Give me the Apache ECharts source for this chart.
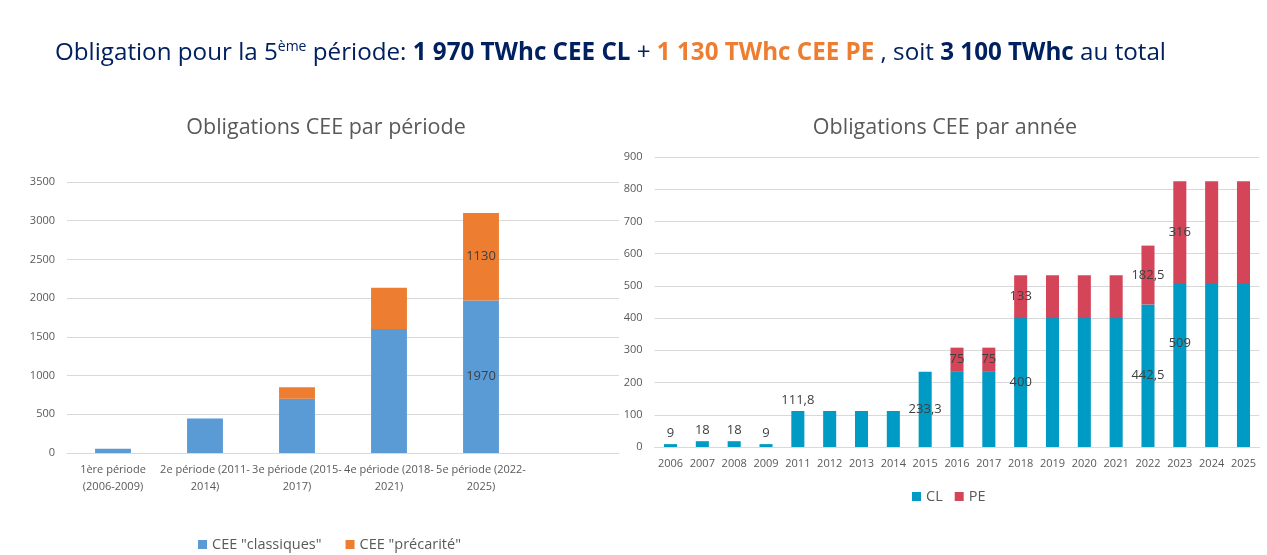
<!DOCTYPE html>
<html><head><meta charset="utf-8">
<script src="https://cdn.jsdelivr.net/npm/echarts@6/dist/echarts.min.js"></script>
<style>html,body{margin:0;padding:0;background:#fff}#c{width:1267px;height:555px}</style>
</head><body><div id="c"></div>
<script>
// Left chart: obligations per period
const periodCategories = ["1ère période\n(2006-2009)", "2e période (2011-\n2014)", "3e période (2015-\n2017)", "4e période (2018-\n2021)", "5e période (2022-\n2025)", ""];
const periodClassiques = [54, 447, 700, 1600, 1970, null];
const periodPrecarite = [null, null, 150, 533, 1130, null];
const periodLabelIdx = [4]; // labelled bars

// Right chart: obligations per year
const years = ["2006","2007","2008","2009","2011","2012","2013","2014","2015","2016","2017","2018","2019","2020","2021","2022","2023","2024","2025"];
const yearCL = [9, 18, 18, 9, 111.8, 111.8, 111.8, 111.8, 233.3, 233.3, 233.3, 400, 400, 400, 400, 442.5, 509, 509, 509];
const yearPE = [0, 0, 0, 0, 0, 0, 0, 0, 0, 75, 75, 133, 133, 133, 133, 182.5, 316, 316, 316];
const clTopLabels = [0, 1, 2, 3, 4];      // labels above bar
const clInsideLabels = [8, 11, 15, 16];  // labels inside bar
const peLabels = [9, 10, 11, 15, 16];

const FONT = "'Open Sans', sans-serif";
const fmt = v => String(v).replace('.', ',');

const chart = echarts.init(document.getElementById('c'));

const clData = yearCL.map((v, i) => {
  const item = { value: v };
  if (clTopLabels.includes(i)) item.label = { show: true, position: 'top', distance: 4 };
  else if (clInsideLabels.includes(i)) item.label = { show: true, position: 'inside', offset: i === 16 ? [0, -22] : [0, 0] };
  return item;
});
const peData = yearPE.map((v, i) => {
  const item = { value: v === 0 ? null : v };
  if (peLabels.includes(i)) item.label = { show: true, position: 'inside' };
  return item;
});
const pClData = periodClassiques.map((v, i) => ({ value: v, label: { show: periodLabelIdx.includes(i), position: 'inside' } }));
const pPeData = periodPrecarite.map((v, i) => ({ value: v, label: { show: periodLabelIdx.includes(i), position: 'inside' } }));

const lblStyle = { color: '#404040', fontSize: 13, fontFamily: FONT, formatter: p => fmt(p.value) };
const axisLbl = { color: '#595959', fontSize: 11, fontFamily: FONT };
const plain = v => String(v);

chart.setOption({
  animation: false,
  title: [
    {
      text: 'Obligation pour la 5{sup|ème} période: {b|1 970 TWhc CEE CL} + {o|1 130 TWhc CEE PE} , soit {b|3 100 TWhc} au total',
      left: 50, top: 35,
      textStyle: {
        fontFamily: FONT, fontSize: 24.2, color: '#002060', fontWeight: 'normal',
        rich: {
          sup: { fontSize: 14, color: '#002060', fontFamily: FONT, padding: [0, 0, 13, 0] },
          b: { fontSize: 24.2, fontWeight: 'bold', color: '#002060', fontFamily: FONT },
          o: { fontSize: 24.2, fontWeight: 'bold', color: '#ED7D31', fontFamily: FONT }
        }
      }
    },
    { text: 'Obligations CEE par période', left: 321, top: 112, textAlign: 'center',
      textStyle: { fontFamily: FONT, fontSize: 21.5, color: '#595959', fontWeight: 'normal' } },
    { text: 'Obligations CEE par année', left: 940, top: 112, textAlign: 'center',
      textStyle: { fontFamily: FONT, fontSize: 21.5, color: '#595959', fontWeight: 'normal' } }
  ],
  legend: [
    { data: ['CEE "classiques"', 'CEE "précarité"'], left: 193, top: 532, itemWidth: 9, itemHeight: 9, itemGap: 24,
      textStyle: { color: '#595959', fontSize: 14.5, fontFamily: FONT }, icon: 'rect' },
    { data: ['CL', 'PE'], left: 907, top: 484, itemWidth: 9, itemHeight: 9, itemGap: 12,
      textStyle: { color: '#595959', fontSize: 14.5, fontFamily: FONT }, icon: 'rect' }
  ],
  grid: [
    { left: 67, right: 648, top: 182, bottom: 102 },
    { left: 654.6, right: 7.6, top: 157, bottom: 108 }
  ],
  xAxis: [
    { type: 'category', gridIndex: 0, data: periodCategories,
      axisLine: { lineStyle: { color: '#d9d9d9' } }, axisTick: { show: false },
      axisLabel: Object.assign({ margin: 8, lineHeight: 17, interval: 0 }, axisLbl) },
    { type: 'category', gridIndex: 1, data: years,
      axisLine: { lineStyle: { color: '#d9d9d9' } }, axisTick: { show: false },
      axisLabel: Object.assign({ margin: 11, interval: 0 }, axisLbl) }
  ],
  yAxis: [
    { type: 'value', gridIndex: 0, min: 0, max: 3500, interval: 500,
      splitLine: { lineStyle: { color: '#d9d9d9' } }, axisLine: { show: false }, axisTick: { show: false },
      axisLabel: Object.assign({ margin: 12, formatter: plain }, axisLbl) },
    { type: 'value', gridIndex: 1, min: 0, max: 900, interval: 100,
      splitLine: { lineStyle: { color: '#d9d9d9' } }, axisLine: { show: false }, axisTick: { show: false },
      axisLabel: Object.assign({ margin: 12, formatter: plain }, axisLbl) }
  ],
  series: [
    { name: 'CEE "classiques"', type: 'bar', stack: 'p', xAxisIndex: 0, yAxisIndex: 0, barWidth: '39%',
      itemStyle: { color: '#5B9BD5' }, data: pClData, label: lblStyle },
    { name: 'CEE "précarité"', type: 'bar', stack: 'p', xAxisIndex: 0, yAxisIndex: 0, barWidth: '39%',
      itemStyle: { color: '#ED7D31' }, data: pPeData, label: lblStyle },
    { name: 'CL', type: 'bar', stack: 'y', xAxisIndex: 1, yAxisIndex: 1, barWidth: '41%',
      itemStyle: { color: '#009BC4' }, data: clData, label: lblStyle },
    { name: 'PE', type: 'bar', stack: 'y', xAxisIndex: 1, yAxisIndex: 1, barWidth: '41%',
      itemStyle: { color: '#D4455A' }, data: peData, label: lblStyle }
  ]
});
</script></body></html>
